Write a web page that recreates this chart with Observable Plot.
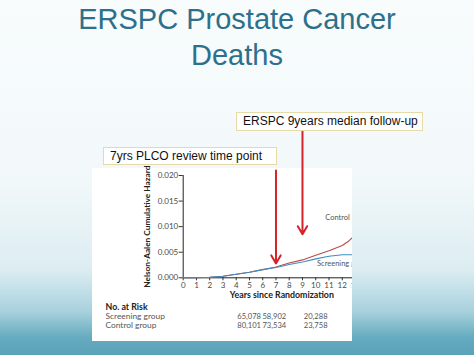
<!DOCTYPE html>
<html>
<head>
<meta charset="utf-8">
<script src="https://cdn.jsdelivr.net/npm/d3@7"></script>
<script src="https://cdn.jsdelivr.net/npm/@observablehq/plot@0.6"></script>
<style>
  html, body { margin: 0; padding: 0; }
  body { width: 474px; height: 355px; position: relative; overflow: hidden;
    background: linear-gradient(to bottom, #f8fcfd 0%, #f2f8fa 50%, #dcedf2 76%, #a6d0dc 88%, #66abc0 95%, #5aa2b8 100%);
    font-family: "Liberation Sans", Arial, sans-serif; }
  #title { position: absolute; left: 0; top: 1px; width: 474px; text-align: center;
    font-size: 29px; line-height: 36px; color: #2d708b; }
  #paper { position: absolute; left: 92px; top: 168px; width: 260px; height: 173px; background: #fff; }
  #chart { position: absolute; left: 92px; top: 110px; width: 260px; height: 231px; overflow: hidden; }
  #chart svg { max-width: none !important; width: 273px; height: 231px; }
  .callout { position: absolute; box-sizing: border-box; background: #fff; border: 1px solid #e6dba6;
    font-size: 12px; line-height: 17px; padding-left: 6px; color: #111; white-space: nowrap; }
</style>
</head>
<body>
<div id="title">ERSPC Prostate Cancer<br>Deaths</div>
<div id="paper"></div>
<div id="chart"></div>
<div class="callout" id="c2" style="left:236px;top:112px;width:187px;height:19px;"></div>
<div class="callout" id="c1" style="left:103px;top:147px;width:174px;height:18px;"></div>
<script>
// ---- data ----
const years     = [0, 1, 2, 3, 4, 5, 6, 7, 8, 9, 10, 11, 12, 12.5, 12.9];
const control   = [0, 0.00003, 0.0001, 0.0003, 0.0007, 0.0011, 0.0016, 0.0021, 0.0029, 0.0035, 0.0044, 0.0053, 0.0063, 0.0072, 0.0082];
const screening = [0, 0.00003, 0.0001, 0.0003, 0.0007, 0.0011, 0.0016, 0.0020, 0.0026, 0.0031, 0.0037, 0.0042, 0.0045, 0.0045, 0.0045];
const xTicks = [0, 1, 2, 3, 4, 5, 6, 7, 8, 9, 10, 11, 12, 13];
const yTicks = [0, 0.005, 0.010, 0.015, 0.020];
const groupNames = ["Control", "Screening"];
const curveLabels = [
  {year: 10.72, value: 0.0118, text: "Control"},
  {year: 10.1, value: 0.0027, text: "Screening group"}
];
const arrowYears = [7, 9];
const arrowFrom  = [0.0210, 0.0286];
const arrowTo    = [0.0028, 0.0085];
const calloutTexts = ["7yrs PLCO review time point", "ERSPC 9years median follow-up"];
const riskTitle = "No. at Risk";
const riskRows = ["Screening group", "Control group"];
const riskYears = [4.08, 5.98, 9.1];
const riskScreening = ["65,078", "58,902", "20,288"];
const riskControl   = ["80,101", "73,534", "23,758"];
const xLabel = "Years since Randomization";
const yLabel = "Nelson-Aalen Cumulative Hazard";

document.getElementById("c1").textContent = calloutTexts[0];
document.getElementById("c2").textContent = calloutTexts[1];

const curves = [
  ...years.map((t, i) => ({year: t, value: control[i], group: groupNames[0]})),
  ...years.map((t, i) => ({year: t, value: screening[i], group: groupNames[1]}))
];
const arrows = arrowYears.map((y, i) => ({year: y, from: arrowFrom[i], to: arrowTo[i]}));
const rs = riskYears.map((y, i) => ({year: y, text: riskScreening[i]}));
const rc = riskYears.map((y, i) => ({year: y, text: riskControl[i]}));

const txt = "#4a4a4a";
const plot = Plot.plot({
  width: 273, height: 231,
  marginLeft: 90.7, marginRight: 10, marginTop: 65, marginBottom: 63.7,
  style: {background: "transparent", fontFamily: "Lato, 'DejaVu Sans', sans-serif", color: txt, maxWidth: "none"},
  x: {domain: [0, 13]},
  y: {domain: [0, 0.02]},
  color: {domain: groupNames, range: ["#b94a48", "#3b8fc4"]},
  marks: [
    Plot.axisY({ticks: yTicks, tickFormat: d3.format(".3f"), tickSize: 4, tickPadding: 1, fontSize: 8, label: null, stroke: "#333"}),
    Plot.axisX({ticks: xTicks, tickFormat: d3.format("d"), tickSize: 3, tickPadding: 1.5, fontSize: 8, label: null, stroke: "#333"}),
    Plot.ruleY([0], {stroke: "#222", strokeWidth: 1}),
    Plot.ruleX([0], {stroke: "#222", strokeWidth: 1}),
    Plot.line(curves, {x: "year", y: "value", stroke: "group", z: "group", strokeWidth: 1.1}),
    Plot.text(curveLabels, {x: "year", y: "value", text: "text", textAnchor: "start", fill: "#555", fontSize: 7.5}),
    Plot.text([yLabel], {frameAnchor: "left", rotate: -90, dx: -36, textAnchor: "middle", fontWeight: "bold", fontSize: 8.3, fill: "#222"}),
    Plot.text([xLabel], {frameAnchor: "bottom", dx: 12.5, dy: 20, fontWeight: "bold", fontSize: 8.8, fill: "#222"}),
    Plot.text([riskTitle], {frameAnchor: "bottom-left", dx: -77.7, dy: 31.7, textAnchor: "start", fontWeight: "bold", fontSize: 8.8, fill: "#222"}),
    Plot.text([riskRows[0]], {frameAnchor: "bottom-left", dx: -77.7, dy: 41.2, textAnchor: "start", fontSize: 8.4, fill: "#555"}),
    Plot.text([riskRows[1]], {frameAnchor: "bottom-left", dx: -77.7, dy: 50, textAnchor: "start", fontSize: 8.4, fill: "#555"}),
    Plot.text(rs, {x: "year", text: "text", frameAnchor: "bottom", textAnchor: "start", dy: 41.2, fontSize: 7.6, fill: "#555"}),
    Plot.text(rc, {x: "year", text: "text", frameAnchor: "bottom", textAnchor: "start", dy: 50, fontSize: 7.6, fill: "#555"}),
    Plot.arrow(arrows, {x1: "year", x2: "year", y1: "from", y2: "to", stroke: "#d4242b", strokeWidth: 2, headLength: 7})
  ]
});
document.getElementById("chart").appendChild(plot);
</script>
</body>
</html>
